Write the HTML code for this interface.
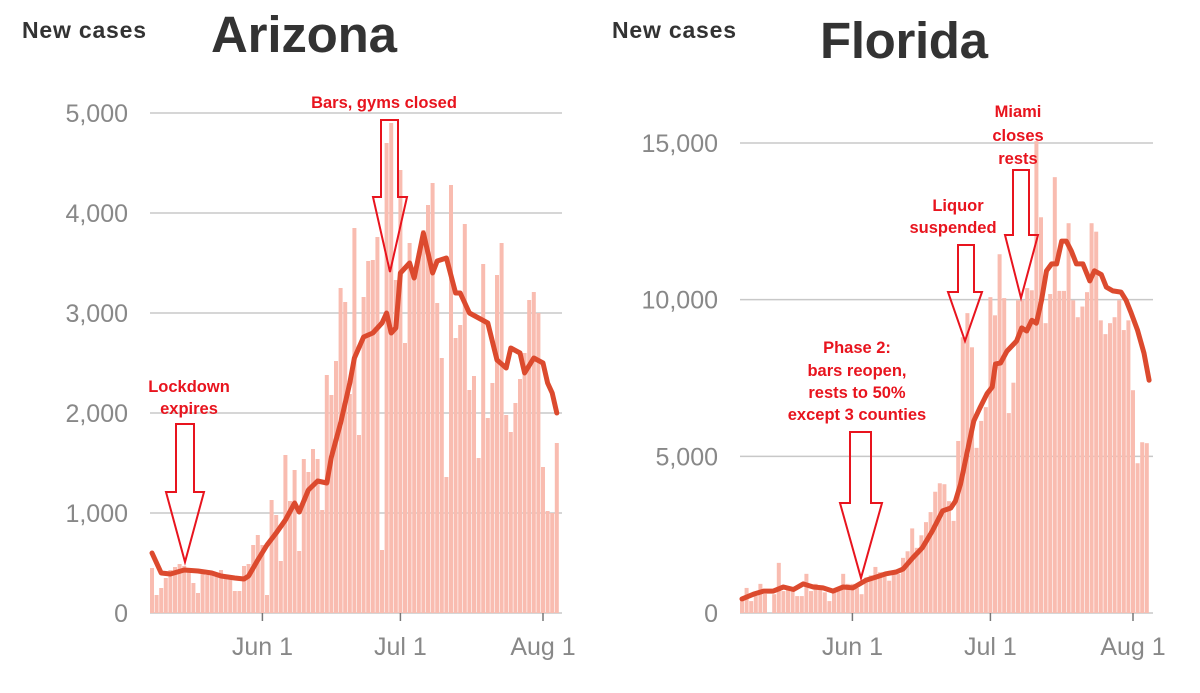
<!DOCTYPE html>
<html><head><meta charset="utf-8"><style>
html,body{margin:0;padding:0;background:#fff;}
svg{display:block;font-family:"Liberation Sans",sans-serif;}
.ann{fill:#e8141e;font-weight:bold;font-size:16.5px;text-anchor:middle;}
.arrow{fill:none;stroke:#e8141e;stroke-width:2;}
.ytick{fill:#888;font-size:25px;text-anchor:end;}
.xtick{fill:#888;font-size:25px;text-anchor:middle;}
</style></head><body>
<svg id="chart" width="1200" height="693" viewBox="0 0 1200 693">
<text x="22" y="38" font-size="23" font-weight="bold" fill="#333" textLength="124">New cases</text>
<text x="211" y="52" font-size="51" font-weight="bold" fill="#333" textLength="186">Arizona</text>
<text x="612" y="38" font-size="23" font-weight="bold" fill="#333" textLength="124">New cases</text>
<text x="820" y="58" font-size="51" font-weight="bold" fill="#333" textLength="168">Florida</text>
<g id="az"></g>
<g id="fl"></g>
<g>
<text class="ann" x="189" y="392">Lockdown</text>
<text class="ann" x="189" y="414">expires</text>
<polygon class="arrow" points="176,424 194,424 194,492 204,492 185,562 166,492 176,492"/>
<text class="ann" x="384" y="108">Bars, gyms closed</text>
<polygon class="arrow" points="381,120 398,120 398,197 407,197 390,272 373,197 381,197"/>
<text class="ann" x="857" y="353">Phase 2:</text>
<text class="ann" x="857" y="376">bars reopen,</text>
<text class="ann" x="857" y="398">rests to 50%</text>
<text class="ann" x="857" y="420">except 3 counties</text>
<polygon class="arrow" points="850,432 871,432 871,503 882,503 861,578 840,503 850,503"/>
<text class="ann" x="958" y="211">Liquor</text>
<text class="ann" x="953" y="233">suspended</text>
<polygon class="arrow" points="958,245 974,245 974,292 982,292 965,341 948,292 958,292"/>
<text class="ann" x="1018" y="117">Miami</text>
<text class="ann" x="1018" y="141">closes</text>
<text class="ann" x="1018" y="164">rests</text>
<polygon class="arrow" points="1013,170 1029,170 1029,235 1038,235 1021,298 1005,235 1013,235"/>
</g>
</svg>
<script>
const azBars = [450,180,250,350,430,460,490,470,430,300,200,420,380,400,380,430,380,360,220,220,470,490,680,780,680,180,1130,980,520,1580,1120,1430,620,1540,1410,1640,1540,1030,2380,2180,2520,3250,3110,
2190,3850,1780,3160,3520,3530,3760,630,4700,4900,3330,4430,2700,3700,3380,3600,3830,4080,4300,3100,2550,1360,4280,2750,2880,3890,2230,2370,1550,3490,1950,2300,3380,3700,1980,1810,2100,2340,2600,3130,3210,3000,1460,1020,1000,1700];
const azLineDays = [0,2,4,7,10,13,15,18,20,21,23,25,27,29,31,32,34,36,38,39,41,43,44,46,48,50,51,52,53,54,56,57,59,61,62,64,66,67,69,71,73,75,77,78,80,81,83,85,86,87,88];
const azLineVals = [600,400,390,430,420,400,370,350,340,370,530,680,800,930,1100,1010,1230,1320,1300,1560,1900,2300,2550,2760,2800,2900,3000,2800,2850,3400,3500,3350,3800,3400,3520,3550,3200,3200,3000,2950,2900,2530,2450,2650,2600,2400,2550,2500,2300,2200,2000];
const azTicks = [0,1000,2000,3000,4000,5000];
const azTickLabels = ["0","1,000","2,000","3,000","4,000","5,000"];

const flBars = [480,800,380,540,930,610,0,600,1600,700,800,700,540,540,1250,700,930,800,660,380,700,800,1250,930,930,800,600,1130,1200,1470,1300,1250,1030,1250,1250,1760,1970,2700,2080,2480,2900,3220,3870,4140,
4110,3570,2940,5490,8800,9570,8480,5270,6130,6570,10080,9500,11450,10050,6380,7350,9980,9980,10370,10300,15060,12630,9250,10180,13910,10280,10280,12440,9980,9440,9780,10240,12440,12170,9340,8900,9250,9440,9980,9030,9340,7110,4780,5450,5420];
const flLineDays = [0,2.5,4.7,6.8,9,11.2,13.3,15.5,17.6,19.8,22,24.1,27,29.2,31.3,33.5,35,37.1,39.2,41.4,43.6,45.4,46.4,47.5,49,50.4,51.8,53.3,54.4,55.1,56.2,57.6,59.7,60.8,61.9,63,64,65.1,66.2,67.3,68.4,69.5,70.5,71.6,72.7,74.1,75.6,76.6,78.1,79.2,80.6,82.4,83.5,84.6,86,87.4,88.5];
const flLineVals = [450,600,700,700,830,750,930,830,800,700,830,800,1050,1150,1250,1310,1400,1760,2080,2620,3260,3350,3570,4110,5170,6130,6570,7010,7210,7950,7980,8360,8680,9100,9000,9340,9250,9980,10920,11140,11140,11870,11870,11550,11140,11140,10600,10920,10800,10400,10280,10240,9980,9570,9020,8290,7430];
const flTicks = [0,5000,10000,15000];
const flTickLabels = ["0","5,000","10,000","15,000"];

const xTickDays = [24,54,85];
const xTickLabels = ["Jun 1","Jul 1","Aug 1"];

const NS="http://www.w3.org/2000/svg";
function mk(tag,attrs,parent){const e=document.createElementNS(NS,tag);for(const k in attrs)e.setAttribute(k,attrs[k]);parent.appendChild(e);return e;}

function draw(g, cfg, bars, lDays, lVals, ticks, tickLabels, prefix){
  const x=d=>cfg.x0+d*4.6+2;
  const y=v=>cfg.y0-(v/cfg.max)*(cfg.y0-cfg.yTop);
  ticks.forEach((t,i)=>{
    const gl=mk('line',{x1:cfg.x0,x2:cfg.x1,y1:y(t),y2:y(t),stroke:'#c8c8c8','stroke-width':1.5},g);
    
    
    const tl=mk('text',{x:cfg.labelX,y:y(t)+9,class:'ytick'},g);
    tl.textContent=tickLabels[i];
    
    
  });
  bars.forEach((v,i)=>{
    const r=mk('rect',{x:x(i)-2,y:y(v),width:4,height:Math.max(0,cfg.y0-y(v)),fill:'#f9bcb0'},g);
    
    
  });
  xTickDays.forEach((d,i)=>{
    const tk=mk('line',{x1:x(d),x2:x(d),y1:cfg.y0,y2:cfg.y0+8,stroke:'#777','stroke-width':1.5},g);
    
    
    const tl=mk('text',{x:x(d),y:655,class:'xtick'},g);
    tl.textContent=xTickLabels[i];
    
    
  });
  const pts=lDays.map((d,i)=>x(d).toFixed(1)+','+y(lVals[i]).toFixed(1)).join(' ');
  const pl=mk('polyline',{points:pts,fill:'none',stroke:'#dc4a2e','stroke-width':5,'stroke-linejoin':'round','stroke-linecap':'round'},g);
  
  
}
draw(document.getElementById('az'),{x0:150,x1:562,y0:613,yTop:113,max:5000,labelX:128},azBars,azLineDays,azLineVals,azTicks,azTickLabels,'arizona');
draw(document.getElementById('fl'),{x0:740,x1:1153,y0:613,yTop:143,max:15000,labelX:718},flBars,flLineDays,flLineVals,flTicks,flTickLabels,'florida');
</script>
</body></html>
